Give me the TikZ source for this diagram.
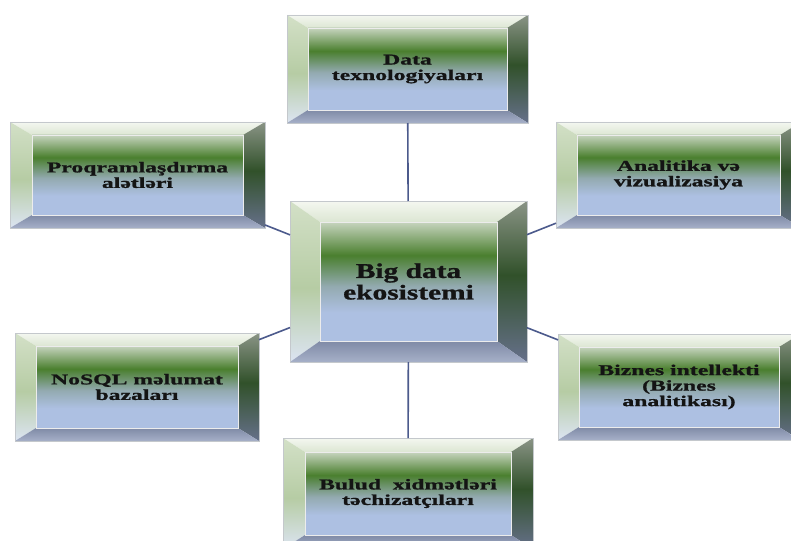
\documentclass[tikz,border=0pt]{standalone}
\usepackage{fontspec}
\newfontfamily\boxfont[FakeStretch=1.58,FakeBold=1.2]{Liberation Serif}
\newfontfamily\bigboxfont[FakeStretch=1.4,FakeBold=1.2]{Liberation Serif}
\usetikzlibrary{calc}
\definecolor{pblue}{HTML}{ADC0E2}
\definecolor{pmid}{HTML}{93AAB0}
\definecolor{pgreen}{HTML}{4A7F2E}
\definecolor{ptop}{HTML}{C6D4BE}
\definecolor{btopA}{HTML}{F4F7F0}
\definecolor{btopB}{HTML}{DCE6D3}
\definecolor{bleftA}{HTML}{D3E0C7}
\definecolor{bleftB}{HTML}{B6CCA4}
\definecolor{bleftC}{HTML}{DCE4F2}
\definecolor{brightA}{HTML}{8A9486}
\definecolor{brightB}{HTML}{31512A}
\definecolor{brightC}{HTML}{66708A}
\definecolor{bbotA}{HTML}{7F8AA6}
\definecolor{bbotB}{HTML}{A6B0C8}
\definecolor{framegray}{HTML}{C4C8CC}
\definecolor{linkblue}{HTML}{4C5A8C}
\pgfdeclareverticalshading{panelshade}{100bp}{color(0bp)=(pblue); color(25bp)=(pblue); color(37bp)=(pblue); color(48bp)=(pmid); color(61bp)=(pgreen); color(75bp)=(ptop); color(100bp)=(ptop)}
\pgfdeclareverticalshading{bevtop}{100bp}{color(0bp)=(btopB); color(25bp)=(btopB); color(75bp)=(btopA); color(100bp)=(btopA)}
\pgfdeclareverticalshading{bevleft}{100bp}{color(0bp)=(bleftC); color(25bp)=(bleftC); color(48bp)=(bleftB); color(75bp)=(bleftA); color(100bp)=(bleftA)}
\pgfdeclareverticalshading{bevright}{100bp}{color(0bp)=(brightC); color(25bp)=(brightC); color(52bp)=(brightB); color(75bp)=(brightA); color(100bp)=(brightA)}
\pgfdeclareverticalshading{bevbot}{100bp}{color(0bp)=(bbotB); color(25bp)=(bbotB); color(75bp)=(bbotA); color(100bp)=(bbotA)}
\tikzset{
  boxframe/.style={rectangle, inner sep=0pt, outer sep=0pt, draw=framegray, line width=0.8pt},
  innerline/.style={draw=white!85!gray, line width=0.7pt},
  smalltext/.style={font=\boxfont\bfseries\fontsize{15}{15.5}\selectfont, align=center, text=black!92},
  bigtext/.style={font=\bigboxfont\bfseries\fontsize{21}{21.5}\selectfont, align=center, text=black!92},
  link/.style={draw=linkblue, line width=1.6pt}
}
% #1 name, #2 cx, #3 cy, #4 w, #5 h, #6 bevel x, #7 bevel y, #8 text style, #9 text
\newcommand\bevelbox[9]{%
  \node[boxframe, minimum width=#4pt, minimum height=#5pt] (#1) at (#2,#3) {};
  \coordinate (#1-a) at ($(#1.north west)+(#6pt,-#7pt)$);
  \coordinate (#1-b) at ($(#1.north east)+(-#6pt,-#7pt)$);
  \coordinate (#1-c) at ($(#1.south east)+(-#6pt,#7pt)$);
  \coordinate (#1-d) at ($(#1.south west)+(#6pt,#7pt)$);
  \shade[shading=bevtop] (#1.north west) -- (#1.north east) -- (#1-b) -- (#1-a) -- cycle;
  \shade[shading=bevleft] (#1.north west) -- (#1-a) -- (#1-d) -- (#1.south west) -- cycle;
  \shade[shading=bevright] (#1.north east) -- (#1.south east) -- (#1-c) -- (#1-b) -- cycle;
  \shade[shading=bevbot] (#1.south west) -- (#1-d) -- (#1-c) -- (#1.south east) -- cycle;
  \shade[shading=panelshade] (#1-a) rectangle (#1-c);
  \draw[innerline] (#1-a) rectangle (#1-c);
  \draw[boxframe] (#1.north west) rectangle (#1.south east);
  \node[#8] (#1-t) at ($(#1-a)!0.5!(#1-c)$) {#9};
}
\begin{document}
\begin{tikzpicture}[x=1pt, y=-1pt]
  \useasboundingbox (0,0) rectangle (791,540);
  \clip (0,0) rectangle (791,540);
  \bevelbox{c}{408.5}{281.5}{237}{161}{30}{21}{bigtext}{Big data\\ekosistemi}
  \bevelbox{t}{407.5}{69}{241}{108}{21}{13}{smalltext}{Data\\texnologiyaları}
  \bevelbox{p}{137.5}{175}{255}{106}{22}{13}{smalltext}{Proqramlaşdırma\\alətləri}
  \bevelbox{a}{678.5}{175}{245}{106}{21}{13}{smalltext}{Analitika və\\vizualizasiya}
  \bevelbox{n}{137}{387}{244}{108}{21}{13}{smalltext}{NoSQL məlumat\\bazaları}
  \bevelbox{b}{679}{387}{242}{106}{21}{13}{smalltext}{Biznes intellekti\\(Biznes\\analitikası)}
  \bevelbox{u}{408}{493.5}{250}{111}{22}{14}{smalltext}{Bulud~ xidmətləri\\təchizatçıları}
  \draw[link] (c) -- (t);
  \draw[link] (c) -- (p);
  \draw[link] (c) -- (a);
  \draw[link] (c) -- (n);
  \draw[link] (c) -- (b);
  \draw[link] (c) -- (u);
\end{tikzpicture}
\end{document}
